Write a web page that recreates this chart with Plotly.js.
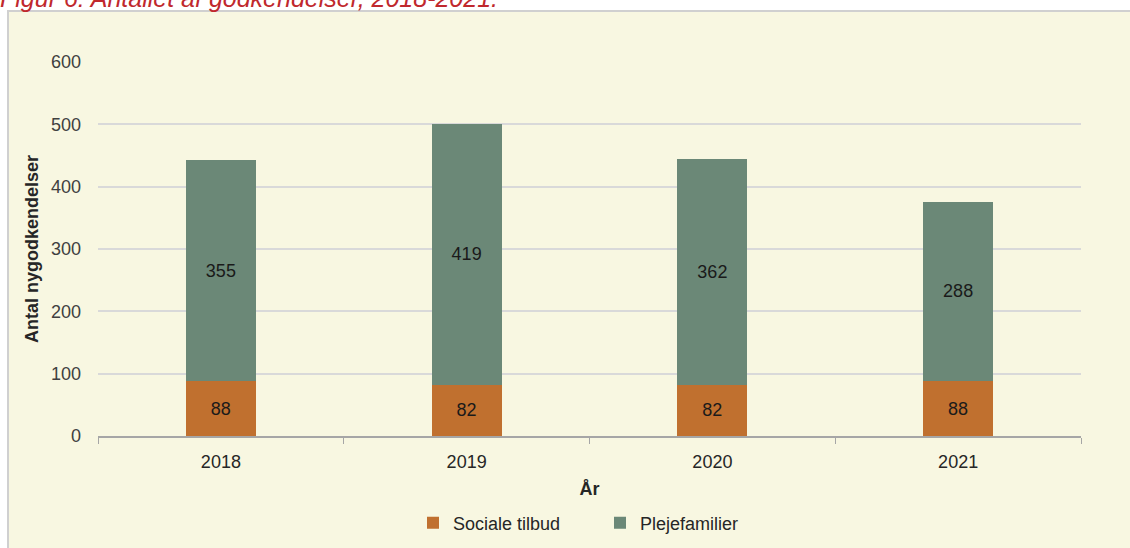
<!DOCTYPE html>
<html>
<head>
<meta charset="utf-8">
<script src="https://cdn.plot.ly/plotly-3.0.1.min.js"></script>
<style>
  html, body { margin: 0; padding: 0; background: #ffffff; }
  #chart { width: 1130px; height: 548px; }
</style>
</head>
<body>
<div id="chart"></div>
<script>
const years = ['2018', '2019', '2020', '2021'];
const socialeTilbud = [88, 82, 82, 88];
const plejefamilier = [355, 419, 362, 288];
const tickValsY = [0, 100, 200, 300, 400, 500, 600];

const FONT = 'Liberation Sans, Arial, sans-serif';

const traces = [
  {
    type: 'bar', name: 'Sociale tilbud', x: years, y: socialeTilbud,
    marker: { color: '#C0702F' },
    text: socialeTilbud.map(String), textposition: 'inside', insidetextanchor: 'middle',
    textangle: 0, textfont: { family: FONT, size: 18, color: '#1a1a1a' },
    hoverinfo: 'x+y+name'
  },
  {
    type: 'bar', name: 'Plejefamilier', x: years, y: plejefamilier,
    marker: { color: '#6B8877' },
    text: plejefamilier.map(String), textposition: 'inside', insidetextanchor: 'middle',
    textangle: 0, textfont: { family: FONT, size: 18, color: '#1a1a1a' },
    hoverinfo: 'x+y+name'
  }
];

const L = 98, R = 49, T = 62, B = 112;
const W = 1130, H = 548;
const pw = W - L - R, ph = H - T - B;
const px = v => (v - L) / pw;
const py = v => (H - B - v) / ph;

const layout = {
  width: W, height: H,
  margin: { l: L, r: R, t: T, b: B, pad: 0, autoexpand: false },
  paper_bgcolor: '#ffffff',
  plot_bgcolor: 'rgba(0,0,0,0)',
  barmode: 'stack',
  bargap: 0.715,
  font: { family: FONT, size: 18, color: '#404040' },
  showlegend: true,
  legend: {
    orientation: 'h', x: px(600), xanchor: 'center', y: py(523), yanchor: 'middle',
    font: { family: FONT, size: 18, color: '#262626' },
    bgcolor: 'rgba(0,0,0,0)', itemwidth: 30, traceorder: 'normal',
    entrywidth: 142
  },
  xaxis: {
    type: 'category',
    tickson: 'boundaries', ticks: 'outside', ticklen: 6, tickcolor: '#A6A6A6', tickwidth: 1,
    showline: true, linecolor: '#A6A6A6', linewidth: 2,
    showgrid: false, zeroline: false,
    ticklabelstandoff: 8,
    tickfont: { family: FONT, size: 18, color: '#262626' },
    title: { text: '<b>År</b>', font: { family: FONT, size: 18, color: '#262626' }, standoff: 12 },
    fixedrange: true
  },
  yaxis: {
    range: [0, 600], tickvals: tickValsY, ticktext: tickValsY.map(String),
    showgrid: true, gridcolor: '#D9D9D9', gridwidth: 2,
    zeroline: false, showline: false, ticks: '',
    ticklabelstandoff: 16,
    tickfont: { family: FONT, size: 18, color: '#404040' },
    title: { text: '<b>Antal nygodkendelser</b>', font: { family: FONT, size: 18, color: '#262626' }, standoff: 7 },
    fixedrange: true
  },
  shapes: [
    {
      type: 'rect', xref: 'paper', yref: 'paper', layer: 'below',
      x0: px(8), x1: px(1140), y0: py(560), y1: py(11),
      fillcolor: '#F8F7E1', line: { color: '#D0D0D0', width: 2 }
    }
  ],
  annotations: [
    {
      xref: 'paper', yref: 'paper', x: px(-2), y: py(14), xanchor: 'left', yanchor: 'bottom',
      text: '<i>Figur 6: Antallet af godkendelser, 2018-2021.</i>', showarrow: false,
      font: { family: FONT, size: 25, color: '#C0282D' }
    }
  ]
};

Plotly.newPlot('chart', traces, layout, { displayModeBar: false, staticPlot: true });
</script>
</body>
</html>
